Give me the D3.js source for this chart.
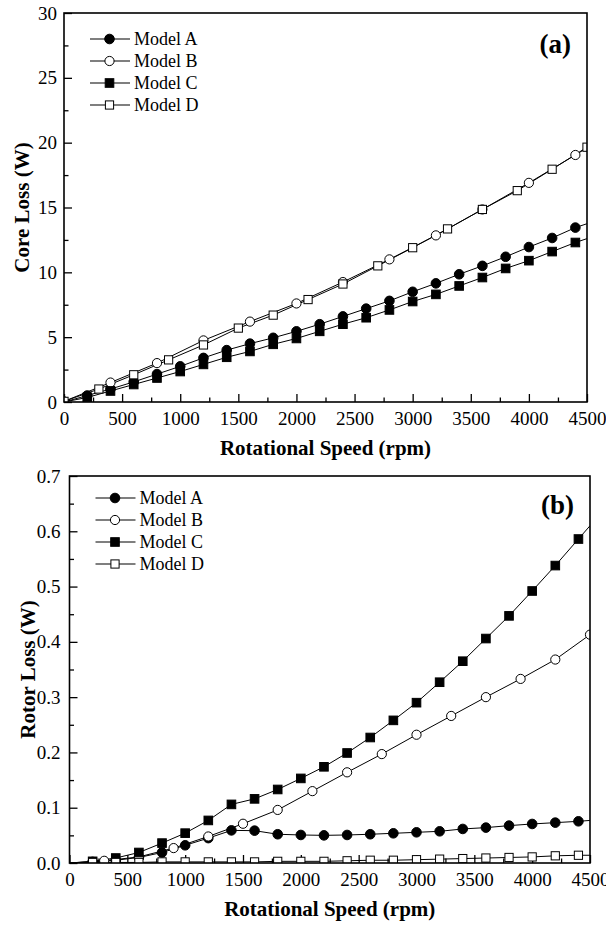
<!DOCTYPE html>
<html>
<head>
<meta charset="utf-8">
<script src="https://cdn.jsdelivr.net/npm/d3@7"></script>
<style>
  html, body { margin: 0; padding: 0; background: #fff; }
  svg { display: block; }
  text { font-family: "Liberation Serif", "Times New Roman", serif; fill: #000; }
</style>
</head>
<body>
<svg id="chart" width="606" height="927"></svg>
<script>
// ---------------- DATA ----------------
const seriesNames = ["Model A", "Model B", "Model C", "Model D"];
const xTicks = [0, 500, 1000, 1500, 2000, 2500, 3000, 3500, 4000, 4500];
const coreTicks = [0, 5, 10, 15, 20, 25, 30];
const rotorTicks = [0, 0.1, 0.2, 0.3, 0.4, 0.5, 0.6, 0.7];

// Panel (a) core loss (W) — marker points [rpm, W]
const coreA = [[200,0.5],[400,1.0],[600,1.55],[800,2.15],[1000,2.75],[1200,3.4],[1400,4.0],[1600,4.5],[1800,4.95],[2000,5.45],[2200,6.0],[2400,6.6],[2600,7.2],[2800,7.8],[3000,8.5],[3200,9.15],[3400,9.85],[3600,10.5],[3800,11.2],[4000,11.95],[4200,12.65],[4400,13.45]];
const coreB = [[0,0.05],[400,1.5],[800,3.0],[1200,4.75],[1600,6.2],[2000,7.6],[2400,9.25],[2800,11.0],[3200,12.85],[3600,14.85],[4000,16.9],[4400,19.05]];
const coreC = [[200,0.35],[400,0.85],[600,1.35],[800,1.85],[1000,2.35],[1200,2.9],[1400,3.45],[1600,3.9],[1800,4.45],[2000,4.9],[2200,5.45],[2400,6.0],[2600,6.5],[2800,7.1],[3000,7.75],[3200,8.3],[3400,8.95],[3600,9.6],[3800,10.3],[4000,10.9],[4200,11.6],[4400,12.3]];
const coreD = [[0,0.05],[300,1.0],[600,2.1],[900,3.25],[1200,4.4],[1500,5.7],[1800,6.7],[2100,7.9],[2400,9.1],[2700,10.5],[3000,11.9],[3300,13.35],[3600,14.85],[3900,16.3],[4200,17.95],[4500,19.65]];
// line start / end points without markers
const coreAEnds = [[0,0],[4500,13.75]];
const coreBEnds = [null,[4500,19.6]];
const coreCEnds = [[0,0],[4500,12.6]];
const coreDEnds = [null,null];

// Panel (b) rotor loss (W)
const rotorA = [[200,0.002],[400,0.005],[600,0.01],[800,0.019],[1000,0.032],[1200,0.045],[1400,0.059],[1600,0.0585],[1800,0.052],[2000,0.0507],[2200,0.05],[2400,0.0507],[2600,0.052],[2800,0.0537],[3000,0.0555],[3200,0.0573],[3400,0.0616],[3600,0.064],[3800,0.0676],[4000,0.0706],[4200,0.073],[4400,0.0754]];
const rotorB = [[300,0.004],[600,0.011],[900,0.027],[1200,0.048],[1500,0.071],[1800,0.096],[2100,0.13],[2400,0.164],[2700,0.197],[3000,0.232],[3300,0.266],[3600,0.3],[3900,0.333],[4200,0.368],[4500,0.413]];
const rotorC = [[200,0.003],[400,0.009],[600,0.019],[800,0.036],[1000,0.054],[1200,0.077],[1400,0.106],[1600,0.116],[1800,0.133],[2000,0.153],[2200,0.174],[2400,0.199],[2600,0.227],[2800,0.258],[3000,0.29],[3200,0.327],[3400,0.365],[3600,0.406],[3800,0.447],[4000,0.492],[4200,0.538],[4400,0.586]];
const rotorD = [[200,0.001],[400,0.001],[600,0.001],[800,0.002],[1000,0.002],[1200,0.002],[1400,0.002],[1600,0.002],[1800,0.003],[2000,0.003],[2200,0.003],[2400,0.004],[2600,0.005],[2800,0.005],[3000,0.006],[3200,0.007],[3400,0.008],[3600,0.009],[3800,0.01],[4000,0.011],[4200,0.013],[4400,0.014]];
const rotorAEnds = [[0,0],[4500,0.077]];
const rotorBEnds = [[0,0],null];
const rotorCEnds = [[0,0],[4500,0.61]];
const rotorDEnds = [[0,0],[4500,0.014]];

// ---------------- DRAW ----------------
const svg = d3.select("#chart");
const markerTypes = ["circleFilled", "circleOpen", "squareFilled", "squareOpen"];

function drawMarker(g, type, cx, cy) {
  const filled = type.endsWith("Filled");
  if (type.startsWith("circle")) {
    g.append("circle").attr("cx", cx).attr("cy", cy).attr("r", filled ? 4.8 : 4.6)
      .attr("fill", filled ? "#000" : "#fff").attr("stroke", "#000").attr("stroke-width", 1);
  } else {
    const s = filled ? 8.6 : 8.2;
    g.append("rect").attr("x", cx - s/2).attr("y", cy - s/2).attr("width", s).attr("height", s)
      .attr("fill", filled ? "#000" : "#fff").attr("stroke", "#000").attr("stroke-width", 1);
  }
}

function panel(cfg) {
  const x = d3.scaleLinear().domain([0, 4500]).range([cfg.left, cfg.right]);
  const y = d3.scaleLinear().domain([0, cfg.yMax]).range([cfg.bottom, cfg.top]);
  const g = svg.append("g");
  const clipId = "clip" + cfg.id;
  svg.append("clipPath").attr("id", clipId).append("rect")
    .attr("x", cfg.left).attr("y", cfg.top - 6).attr("width", cfg.right - cfg.left).attr("height", cfg.bottom - cfg.top + 6);

  // minor ticks
  const xMinor = d3.range(250, 4500, 500);
  const yMinor = d3.range(cfg.yMinorStep, cfg.yMax, cfg.yMajorStep).map(v => +v.toFixed(4));
  g.append("g").attr("transform", `translate(0,${cfg.bottom})`)
    .call(d3.axisBottom(x).tickValues(xMinor).tickSize(-4.5).tickFormat(""))
    .call(s => s.select(".domain").remove());
  g.append("g").attr("transform", `translate(${cfg.left},0)`)
    .call(d3.axisLeft(y).tickValues(yMinor).tickSize(-4.5).tickFormat(""))
    .call(s => s.select(".domain").remove());

  // major ticks
  const xa = g.append("g").attr("transform", `translate(0,${cfg.bottom})`)
    .call(d3.axisBottom(x).tickValues(xTicks).tickSize(-8).tickPadding(9.5).tickFormat(d3.format("d")));
  xa.select(".domain").remove();
  xa.selectAll("text").attr("font-size", 19).style("font-family", '"Liberation Serif", serif');
  const ya = g.append("g").attr("transform", `translate(${cfg.left},0)`)
    .call(d3.axisLeft(y).tickValues(cfg.yTicks).tickSize(-8).tickPadding(cfg.yPad).tickFormat(cfg.yFmt));
  ya.select(".domain").remove();
  ya.selectAll("text").attr("font-size", 19).style("font-family", '"Liberation Serif", serif');
  g.selectAll(".tick line").attr("stroke", "#000").attr("stroke-width", 1.3);

  // series
  const dg = g.append("g").attr("clip-path", `url(#${clipId})`);
  const line = d3.line().x(d => x(d[0])).y(d => y(d[1]));
  cfg.series.forEach((pts, i) => {
    const ends = cfg.ends[i];
    const full = [].concat(ends[0] ? [ends[0]] : [], pts, ends[1] ? [ends[1]] : []);
    dg.append("path").attr("d", line(full)).attr("fill", "none").attr("stroke", "#000").attr("stroke-width", 1);
  });
  cfg.series.forEach((pts, i) => {
    pts.forEach(p => drawMarker(dg, markerTypes[i], x(p[0]), y(p[1])));
  });

  // frame
  g.append("rect").attr("x", cfg.left).attr("y", cfg.top)
    .attr("width", cfg.right - cfg.left).attr("height", cfg.bottom - cfg.top)
    .attr("fill", "none").attr("stroke", "#000").attr("stroke-width", 1.6);

  // legend
  const lg = g.append("g");
  seriesNames.forEach((name, i) => {
    const ly = cfg.top + cfg.legTop + i * 22;
    lg.append("line").attr("x1", cfg.left + 26).attr("x2", cfg.left + 66)
      .attr("y1", ly).attr("y2", ly).attr("stroke", "#000").attr("stroke-width", 1.1);
    drawMarker(lg, markerTypes[i], cfg.left + 45.5, ly);
    lg.append("text").attr("x", cfg.left + 70).attr("y", ly).attr("dy", "0.33em")
      .attr("font-size", 18).text(name);
  });

  // panel label
  g.append("text").attr("x", cfg.right - 16).attr("y", cfg.top + cfg.labelDy)
    .attr("text-anchor", "end").attr("font-size", 27).attr("font-weight", "bold").text(cfg.label);

  // axis titles
  g.append("text").attr("x", (cfg.left + cfg.right) / 2).attr("y", cfg.bottom + 53)
    .attr("text-anchor", "middle").attr("font-size", 21).attr("font-weight", "bold")
    .text("Rotational Speed (rpm)");
  g.append("text")
    .attr("transform", `translate(${cfg.yTitleX},${(cfg.top + cfg.bottom) / 2}) rotate(-90)`)
    .attr("text-anchor", "middle").attr("font-size", 21).attr("font-weight", "bold")
    .text(cfg.yTitle);
}

panel({
  id: "a", left: 64, right: 587, top: 13, bottom: 402,
  yMax: 30, yTicks: coreTicks, yMajorStep: 5, yMinorStep: 2.5, yFmt: d3.format("d"), yPad: 7,
  series: [coreA, coreB, coreC, coreD],
  ends: [coreAEnds, coreBEnds, coreCEnds, coreDEnds],
  legTop: 26, labelDy: 40, label: "(a)", yTitle: "Core Loss (W)", yTitleX: 29
});
panel({
  id: "b", left: 69.5, right: 590, top: 476, bottom: 863,
  yMax: 0.7, yTicks: rotorTicks, yMajorStep: 0.1, yMinorStep: 0.05, yFmt: d3.format(".1f"), yPad: 9,
  series: [rotorA, rotorB, rotorC, rotorD],
  ends: [rotorAEnds, rotorBEnds, rotorCEnds, rotorDEnds],
  legTop: 22, labelDy: 38, label: "(b)", yTitle: "Rotor Loss (W)", yTitleX: 35
});
</script>
</body>
</html>
